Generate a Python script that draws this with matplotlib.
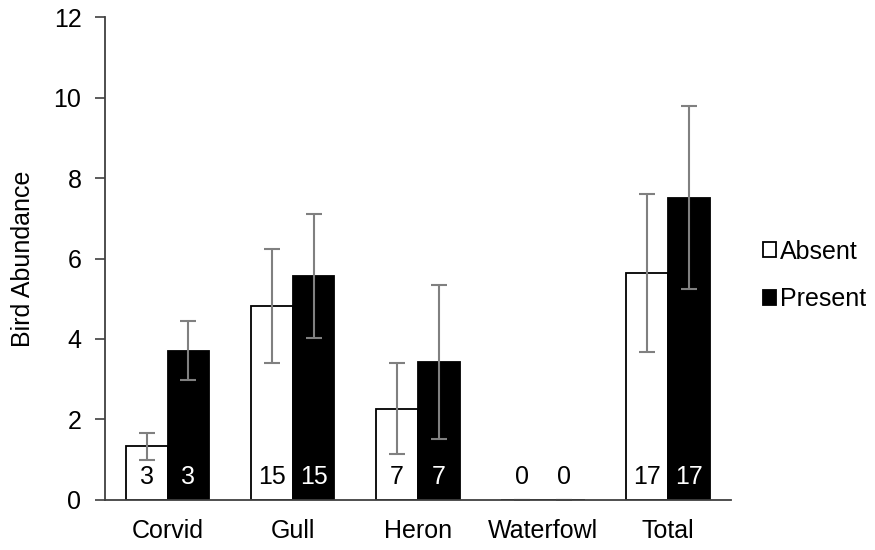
import matplotlib.pyplot as plt
import numpy as np

plt.rcParams['font.family'] = ['Liberation Sans', 'DejaVu Sans']

# bird abundance, mean and error, with counts
categories = ['Corvid', 'Gull', 'Heron', 'Waterfowl', 'Total']
absent = [1.33, 4.82, 2.27, 0, 5.64]
absent_err = [0.34, 1.41, 1.13, 0, 1.96]
present = [3.71, 5.56, 3.43, 0, 7.51]
present_err = [0.74, 1.54, 1.91, 0, 2.28]
n_absent = [3, 15, 7, 0, 17]
n_present = [3, 15, 7, 0, 17]

fig = plt.figure(figsize=(8.75, 5.5), dpi=100)
ax = fig.add_axes([0.12, 0.091, 0.715, 0.878])

x = np.arange(len(categories))
w = 1 / 3
err_kw = dict(ecolor='#808080', elinewidth=1.5, capsize=6, capthick=1.5)
ax.bar(x - w / 2, absent, w, yerr=absent_err, color='white', edgecolor='black',
       linewidth=1.3, label='Absent', error_kw=err_kw)
ax.bar(x + w / 2, present, w, yerr=present_err, color='black', edgecolor='black',
       linewidth=1.3, label='Present', error_kw=err_kw)

for i in range(len(categories)):
    ax.text(x[i] - w / 2, 0.58, str(n_absent[i]), ha='center', va='center', fontsize=18, color='black')
    c = 'white' if present[i] > 0 else 'black'
    ax.text(x[i] + w / 2, 0.58, str(n_present[i]), ha='center', va='center', fontsize=18, color=c)

ax.set_xlim(-0.5, len(categories) - 0.5)
ax.set_ylim(0, 12)
ax.set_yticks(range(0, 13, 2))
ax.set_xticks(x)
ax.set_xticklabels(categories)
ax.tick_params(axis='y', labelsize=18, length=7, width=1.2, color='#404040', pad=10)
ax.tick_params(axis='x', labelsize=18, length=0, pad=14)
ax.set_ylabel('Bird Abundance', fontsize=18, labelpad=13)

for s in ['top', 'right']:
    ax.spines[s].set_visible(False)
for s in ['left', 'bottom']:
    ax.spines[s].set_color('#404040')
    ax.spines[s].set_linewidth(1.3)

ax.legend(loc='center left', bbox_to_anchor=(1.035, 0.465), frameon=False, fontsize=18,
          handlelength=0.55, handleheight=0.55, handletextpad=0.15, labelspacing=0.95,
          borderaxespad=0)

plt.savefig('out.png', dpi=100)
